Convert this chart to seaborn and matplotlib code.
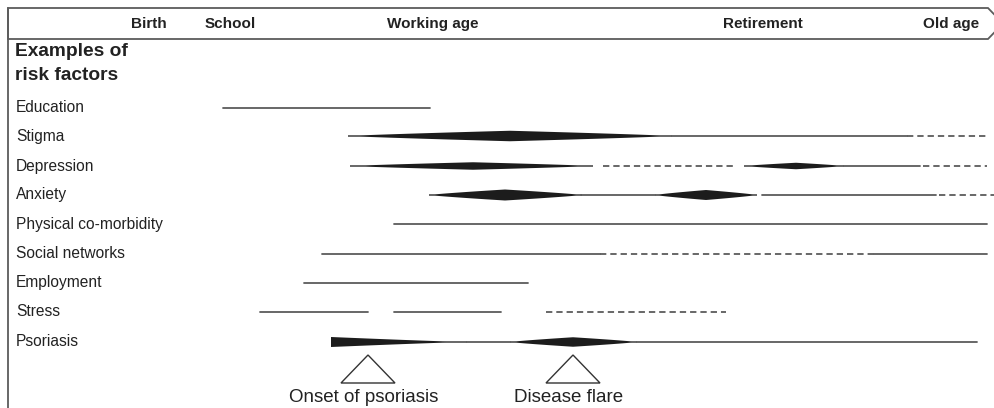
import numpy as np
import pandas as pd
import matplotlib
matplotlib.use("Agg")
import matplotlib.pyplot as plt
import seaborn as sns

# Datos del diagrama (coordenadas en escala del eje: 0-994 horizontal, 0-408 vertical)
etapas = ["Birth", "School", "Working age", "Retirement", "Old age"]
etapas_x = [149, 230, 433, 763, 951]

factores = ["Education", "Stigma", "Depression", "Anxiety", "Physical co-morbidity",
            "Social networks", "Employment", "Stress", "Psoriasis"]
factores_y = [108, 136, 166, 195, 224, 254, 283, 312, 342]

# tramos continuos: (factor, inicio, fin)
tramos_continuos = [
    ("Education", 223, 430),
    ("Stigma", 672, 907),
    ("Depression", 844, 920),
    ("Anxiety", 581, 655), ("Anxiety", 762, 936),
    ("Physical co-morbidity", 394, 987),
    ("Social networks", 322, 600), ("Social networks", 874, 987),
    ("Employment", 304, 528),
    ("Stress", 260, 368), ("Stress", 394, 501),
    ("Psoriasis", 467, 510), ("Psoriasis", 637, 977),
]

# tramos discontinuos
tramos_discontinuos = [
    ("Stigma", 907, 987),
    ("Depression", 603, 733), ("Depression", 923, 987),
    ("Anxiety", 939, 994),
    ("Social networks", 600, 874),
    ("Stress", 546, 726),
]

# husos de intensidad: (factor, inicio, pico, fin, grosor)
husos = [
    ("Stigma", 348, 510, 672, 10.5),
    ("Depression", 350, 473, 593, 7.5),
    ("Depression", 744, 796, 844, 6.5),
    ("Anxiety", 429, 505, 582, 11),
    ("Anxiety", 655, 706, 757, 10),
    ("Psoriasis", 331, 331, 467, 10),
    ("Psoriasis", 510, 573, 637, 9.5),
]

# eventos: (x del vértice, texto)
eventos_x = [368, 573]
eventos_texto = ["Onset of psoriasis", "Disease flare"]

sns.set_theme(style="white")
plt.rcParams['font.family'] = ['Liberation Sans', 'DejaVu Sans']

gris = "#5c5c5c"
negro = "#1c1c1c"
texto = "#222222"
pos_y = dict(zip(factores, factores_y))


def a_tabla(tramos):
    filas = []
    for i, (f, x0, x1) in enumerate(tramos):
        filas.append({"seg": i, "x": x0, "y": pos_y[f]})
        filas.append({"seg": i, "x": x1, "y": pos_y[f]})
    return pd.DataFrame(filas)


fig = plt.figure(figsize=(9.94, 4.08), dpi=100)
ax = fig.add_axes([0, 0, 1, 1])

sns.lineplot(data=a_tabla(tramos_continuos), x="x", y="y", units="seg", estimator=None,
             color=gris, lw=1.3, ax=ax, legend=False)
sns.lineplot(data=a_tabla(tramos_discontinuos), x="x", y="y", units="seg", estimator=None,
             color=gris, lw=1.3, ls=(0, (3.5, 2.2)), ax=ax, legend=False)

# husos
for f, x0, xp, x1, h in husos:
    y = pos_y[f]
    xs, hs = [], []
    if xp > x0:
        t = np.linspace(0, 1, 40)
        xs += list(x0 + t * (xp - x0))
        hs += list(t ** 0.85)
        pot = 0.85
    else:
        pot = 1.15
    t = np.linspace(0, 1, 40)
    xs += list(xp + t * (x1 - xp))
    hs += list((1 - t) ** pot)
    xs = np.array(xs)
    hs = np.maximum(np.array(hs) * h / 2, 0.65)
    ax.fill(np.r_[xs, xs[::-1]], np.r_[y - hs, (y + hs)[::-1]], color=negro, lw=0)

# etiquetas de factores
for f, y in zip(factores, factores_y):
    ax.text(16, y, f, fontsize=11.2, color=texto, va="center", ha="left")

ax.text(15, 52, "Examples of", fontsize=13.8, fontweight="bold", color=texto, va="center")
ax.text(15, 75, "risk factors", fontsize=13.8, fontweight="bold", color=texto, va="center")

# cabecera con flecha
cab = plt.Polygon([(8, 8), (988, 8), (1003, 23.5), (988, 39), (8, 39)], closed=True,
                  facecolor="white", edgecolor=gris, lw=1.3)
ax.add_patch(cab)
ax.plot([8, 8], [8, 410], color=gris, lw=1.3)
for e, x in zip(etapas, etapas_x):
    ax.text(x, 24, e, fontsize=11, fontweight="bold", color=texto, ha="center", va="center")

# eventos
for x, t in zip(eventos_x, eventos_texto):
    tri = plt.Polygon([(x, 355), (x - 27, 383), (x + 27, 383)], closed=True,
                      facecolor="white", edgecolor="#333333", lw=1.0)
    ax.add_patch(tri)
    ax.text(x - 4, 389, t, fontsize=13.5, color=texto, ha="center", va="top")

ax.set_xlim(0, 994)
ax.set_ylim(408, 0)
ax.axis("off")

plt.savefig("out.png", dpi=100)
plt.close()
